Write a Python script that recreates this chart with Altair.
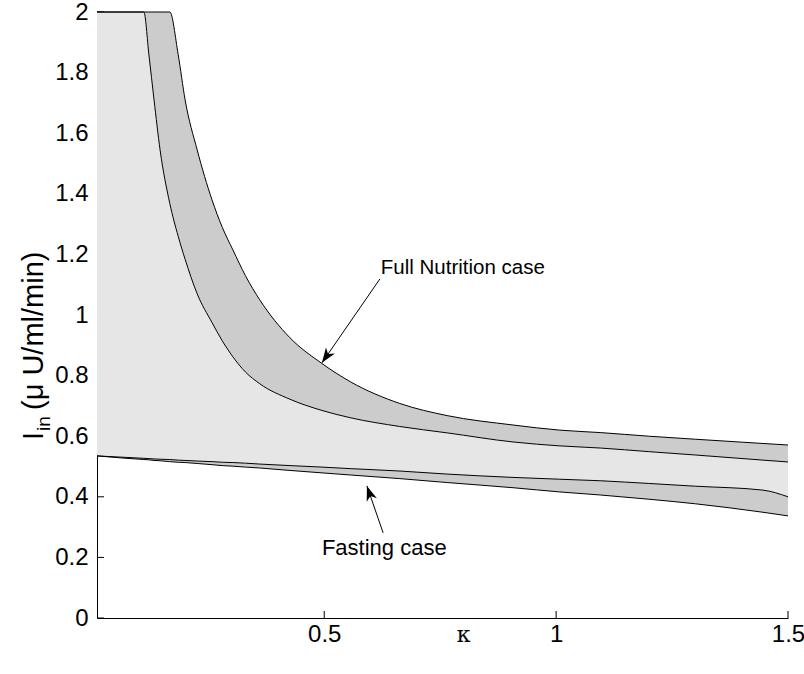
import math
import altair as alt
import pandas as pd

# ---- data ----
kappa = [0.01, 0.111, 0.122, 0.133, 0.146, 0.167, 0.185, 0.2, 0.226, 0.258, 0.28, 0.303, 0.33,
         0.361, 0.426, 0.495, 0.556, 0.663, 0.765, 0.907, 1.008, 1.095, 1.2, 1.3, 1.446, 1.5]
full_outer = [2.0, 2.0, 2.0, 2.0, 2.0, 2.0, 1.86, 1.71, 1.545, 1.38, 1.29, 1.215, 1.13,
              1.05, 0.925, 0.84, 0.78, 0.708, 0.668, 0.637, 0.620, 0.612, 0.600, 0.590, 0.576, 0.571]
full_inner = [2.0, 2.0, 1.858, 1.71, 1.545, 1.368, 1.26, 1.184, 1.07, 0.975, 0.915, 0.862, 0.812,
              0.773, 0.722, 0.685, 0.661, 0.632, 0.611, 0.581, 0.568, 0.561, 0.549, 0.538, 0.521, 0.515]
fast_upper = [0.535, 0.527, 0.526, 0.525, 0.524, 0.523, 0.521, 0.520, 0.518, 0.516, 0.514, 0.513, 0.511,
              0.508, 0.503, 0.498, 0.493, 0.485, 0.475, 0.464, 0.458, 0.453, 0.444, 0.435, 0.422, 0.400]
fast_lower = [0.535, 0.523, 0.522, 0.520, 0.519, 0.516, 0.514, 0.513, 0.510, 0.506, 0.503, 0.501, 0.498,
              0.495, 0.487, 0.479, 0.472, 0.460, 0.447, 0.430, 0.416, 0.406, 0.392, 0.377, 0.349, 0.337]

yticks = [0, 0.2, 0.4, 0.6, 0.8, 1, 1.2, 1.4, 1.6, 1.8, 2]
xticks = [0.5, 1, 1.5]

ann_text = ["Full Nutrition case", "Fasting case"]
ann_x = [0.622, 0.495]
ann_y = [1.155, 0.231]
ann_size = [20.5, 22]
arr_x0 = [0.620, 0.627]
arr_y0 = [1.119, 0.281]
arr_x1 = [0.495, 0.592]
arr_y1 = [0.842, 0.436]

# ---- layout ----
W, H = 691, 606
XMIN, XMAX, YMIN, YMAX = 0.01, 1.5, 0.0, 2.0
FONT = "Liberation Sans"
LS = 24

xs = alt.Scale(domain=[XMIN, XMAX], nice=False, zero=False)
ys = alt.Scale(domain=[YMIN, YMAX], nice=False, zero=False)

df = pd.DataFrame({"kappa": kappa, "outer": full_outer, "inner": full_inner,
                   "fup": fast_upper, "flo": fast_lower})

angles = []
for i in range(len(arr_x0)):
    dx = (arr_x1[i] - arr_x0[i]) * W / (XMAX - XMIN)
    dy = -(arr_y1[i] - arr_y0[i]) * H / (YMAX - YMIN)
    angles.append(math.degrees(math.atan2(dx, -dy)) % 360)
arrows = pd.DataFrame({"x0": arr_x0, "y0": arr_y0, "x1": arr_x1, "y1": arr_y1, "ang": angles})
ann = pd.DataFrame({"x": ann_x, "y": ann_y, "t": ann_text, "s": ann_size})

xaxis = alt.Axis(values=xticks, format="~g", title="κ", ticks=False, tickSize=0, grid=False,
                 labelPadding=4, labelFontSize=LS, labelFont=FONT, labelColor="black",
                 labelFlush=False, labelOverlap=False,
                 domainColor="black", domainWidth=1,
                 titleFont="DejaVu Serif", titleFontSize=22, titleFontWeight="normal",
                 titleColor="black", titleX=366, titleY=23, titleBaseline="alphabetic")
yaxis = alt.Axis(values=yticks, format="~g", title=None, ticks=False, tickSize=0, grid=False,
                 labelPadding=9, labelFontSize=LS, labelFont=FONT, labelColor="black",
                 labelFlush=False, labelOverlap=False,
                 domainColor="black", domainWidth=1)

X = lambda f: alt.X(f, scale=xs, axis=xaxis)
Y = lambda f: alt.Y(f, scale=ys, axis=yaxis)

ytick_df = pd.DataFrame({"x": [XMIN] * len(yticks), "y": yticks})
xtick_df = pd.DataFrame({"x": xticks, "y": [YMIN] * len(xticks)})
ytick_layer = alt.Chart(ytick_df).mark_point(shape="M0,0H1", size=196, stroke="black",
                                            strokeWidth=1, filled=False, opacity=1).encode(
    x=X("x:Q"), y=Y("y:Q"))
xtick_layer = alt.Chart(xtick_df).mark_point(shape="M0,0V-1", size=196, stroke="black",
                                            strokeWidth=1, filled=False, opacity=1).encode(
    x=X("x:Q"), y=Y("y:Q"))

INTERP = "monotone"
band_full = alt.Chart(df).mark_area(color="#cccccc", opacity=1, interpolate=INTERP).encode(
    x=X("kappa:Q"), y=Y("outer:Q"), y2="inner:Q")
band_mid = alt.Chart(df).mark_area(color="#e6e6e6", opacity=1, interpolate=INTERP).encode(
    x=X("kappa:Q"), y=Y("inner:Q"), y2="fup:Q")
band_fast = alt.Chart(df).mark_area(color="#cccccc", opacity=1, interpolate=INTERP).encode(
    x=X("kappa:Q"), y=Y("fup:Q"), y2="flo:Q")

lines = [alt.Chart(df).mark_line(color="black", strokeWidth=1, interpolate=INTERP).encode(
    x=X("kappa:Q"), y=Y(f"{c}:Q")) for c in ["outer", "inner", "fup", "flo"]]

shafts = alt.Chart(arrows).mark_rule(color="black", strokeWidth=1).encode(
    x=X("x0:Q"), y=Y("y0:Q"), x2="x1:Q", y2="y1:Q")
heads = alt.Chart(arrows).mark_point(shape="M0,0L0.36,1L0,0.72L-0.36,1Z", size=900,
                                     filled=True, color="black", opacity=1).encode(
    x=X("x1:Q"), y=Y("y1:Q"), angle=alt.Angle("ang:Q", scale=None))
texts = alt.Chart(ann).mark_text(align="left", baseline="middle", font=FONT,
                                 color="black").encode(
    x=X("x:Q"), y=Y("y:Q"), text="t:N", size=alt.Size("s:Q", scale=None, legend=None))

# y-axis title with subscript
tdf = lambda s: pd.DataFrame({"t": [s]})
TS = 29
yt1 = alt.Chart(tdf("I")).mark_text(angle=270, align="left", baseline="alphabetic", fontSize=TS,
                                    font=FONT, color="black").encode(
    x=alt.value(-54), y=alt.value(428), text="t:N")
yt2 = alt.Chart(tdf("in")).mark_text(angle=270, align="left", baseline="alphabetic", fontSize=19,
                                     font=FONT, color="black").encode(
    x=alt.value(-47), y=alt.value(419), text="t:N")
yt3 = alt.Chart(tdf("(μ U/ml/min)")).mark_text(angle=270, align="left", baseline="alphabetic",
                                              fontSize=TS, font=FONT, color="black").encode(
    x=alt.value(-54), y=alt.value(398), text="t:N")

chart = alt.layer(ytick_layer, xtick_layer, band_full, band_mid, band_fast, *lines,
                  shafts, heads, texts, yt1, yt2, yt3).properties(
    width=W, height=H,
    autosize=alt.AutoSizeParams(type="none"),
    padding={"left": 97, "top": 12, "right": 16, "bottom": 56},
    background="white",
).configure_view(stroke=None)

chart.save("out.html", embed_options={"renderer": "svg", "actions": False})
